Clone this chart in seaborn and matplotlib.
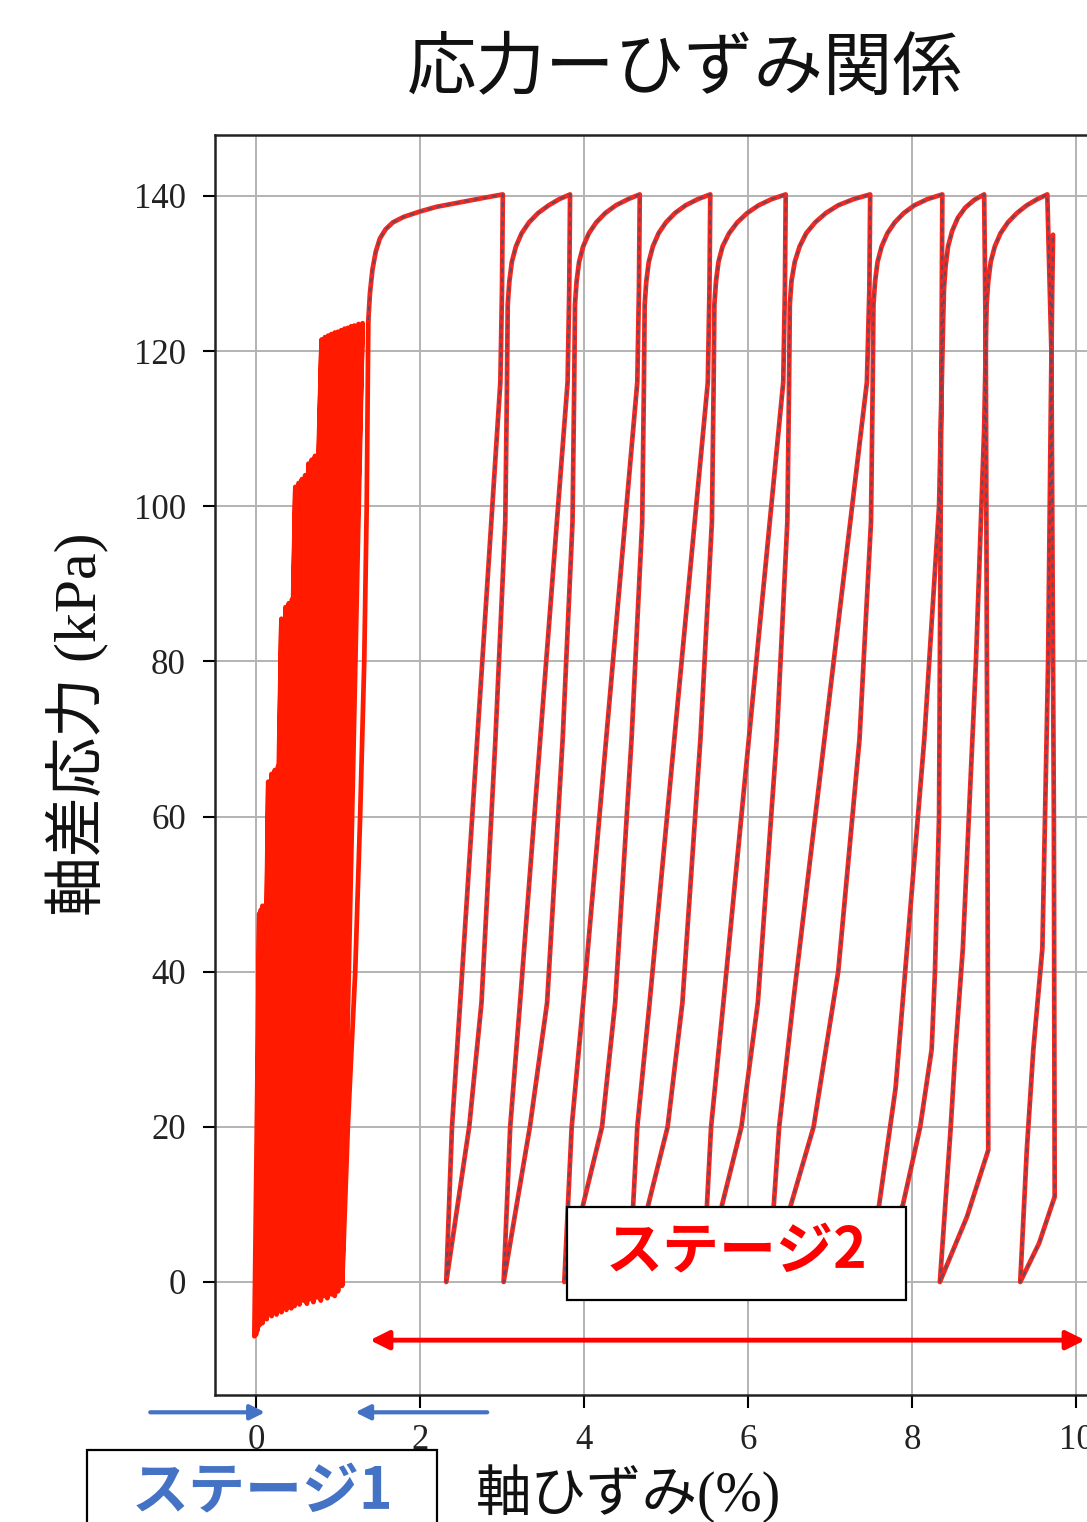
import matplotlib
matplotlib.use("Agg")
import matplotlib.pyplot as plt
import seaborn as sns
import pandas as pd
from matplotlib.patches import Rectangle

# ---------------- data ----------------
# Stage 1: small cyclic loading (trough -> peak per cycle)
s1_trough_x = [-0.02, 0.00, 0.02, 0.04, 0.06, 0.08, 0.11, 0.13, 0.16, 0.19, 0.22, 0.25,
               0.28, 0.31, 0.34, 0.37, 0.41, 0.43, 0.45, 0.47, 0.49, 0.53, 0.58, 0.62,
               0.66, 0.70, 0.74, 0.79, 0.83, 0.87, 0.92, 0.96, 1.00]
s1_trough_y = [-7.0, -6.8, -6.2, -5.6, -5.0, -5.3, -4.4, -4.8, -3.9, -4.4, -3.6, -4.2,
               -3.4, -3.9, -3.2, -3.6, -3.0, -3.4, -2.7, -3.1, -2.6, -2.9, -2.4, -2.8,
               -2.2, -2.6, -2.0, -2.4, -1.8, -2.1, -1.6, -1.8, -1.2]
s1_peak_x = [0.04, 0.06, 0.08, 0.10, 0.15, 0.19, 0.23, 0.27, 0.31, 0.36, 0.40, 0.44,
             0.48, 0.52, 0.56, 0.60, 0.64, 0.68, 0.72, 0.77, 0.80, 0.84, 0.88, 0.92,
             0.96, 1.00, 1.04, 1.08, 1.12, 1.16, 1.20, 1.25, 1.30]
s1_peak_y = [47.5, 48.0, 48.5, 48.0, 64.5, 65.5, 66.0, 66.5, 85.5, 87.0, 87.5, 88.0,
             102.5, 103.0, 103.5, 104.0, 105.5, 106.0, 106.5, 107.0, 121.5, 121.8, 122.0, 122.2,
             122.4, 122.5, 122.7, 122.9, 123.0, 123.2, 123.3, 123.5, 123.6]
# last stage-1 loading branch
s1_final_x = [1.05, 1.12, 1.21, 1.27, 1.32, 1.35, 1.37]
s1_final_y = [-0.5, 20.0, 40.0, 60.0, 80.0, 100.0, 124.0]

# Stage 2: monotonic loading + large unload/reload loops
stage2_strain = [
    # monotonic branch
    1.37, 1.39, 1.42, 1.46, 1.51, 1.58, 1.67, 1.80, 2.00, 2.20, 2.40, 2.60, 2.80, 3.01,
    # loop 1
    3.00, 2.98, 2.49, 2.39, 2.32,
    2.60, 2.75, 2.92, 3.04, 3.06, 3.07, 3.09, 3.12, 3.17, 3.24, 3.33, 3.44, 3.57, 3.70, 3.83,
    # loop 2
    3.82, 3.80, 3.22, 3.10, 3.02,
    3.34, 3.55, 3.74, 3.86, 3.88, 3.89, 3.91, 3.94, 3.99, 4.06, 4.15, 4.26, 4.39, 4.54, 4.68,
    # loop 3
    4.67, 4.65, 3.99, 3.85, 3.76,
    4.22, 4.38, 4.58, 4.71, 4.73, 4.74, 4.76, 4.79, 4.84, 4.91, 5.00, 5.11, 5.24, 5.39, 5.54,
    # loop 4
    5.53, 5.51, 4.80, 4.65, 4.55,
    5.02, 5.20, 5.42, 5.56, 5.58, 5.59, 5.61, 5.64, 5.69, 5.77, 5.87, 5.99, 6.13, 6.29, 6.46,
    # loop 5
    6.45, 6.43, 5.70, 5.55, 5.45,
    5.92, 6.12, 6.35, 6.48, 6.50, 6.51, 6.53, 6.57, 6.63, 6.71, 6.82, 6.95, 7.10, 7.29, 7.49,
    # loop 6
    7.48, 7.45, 6.55, 6.38, 6.25,
    6.80, 7.10, 7.36, 7.50, 7.52, 7.53, 7.55, 7.58, 7.63, 7.70, 7.79, 7.90, 8.03, 8.19, 8.37,
    # loop 7
    8.36, 8.33, 8.28, 8.24, 8.10, 7.89, 7.45,
    7.60, 7.80, 7.94, 8.15, 8.33, 8.38, 8.39, 8.41, 8.44, 8.49, 8.56, 8.65, 8.76, 8.88,
    # loop 8
    8.90, 8.92, 8.93, 8.67, 8.34,
    8.41, 8.47, 8.53, 8.62, 8.78, 8.88, 8.91, 8.93, 8.96, 9.01, 9.08, 9.17, 9.28, 9.40, 9.53, 9.65,
    # loop 9
    9.70, 9.73, 9.74, 9.55, 9.32,
    9.40, 9.48, 9.59, 9.66, 9.69, 9.71, 9.72,
]
stage2_stress = [
    124.0, 127.5, 130.5, 132.8, 134.5, 135.7, 136.6, 137.3, 138.0, 138.6, 139.0, 139.4, 139.8, 140.2,
    128.0, 116.0, 36.0, 20.0, 0.0,
    20.0, 36.0, 70.0, 98.0, 115.0, 126.0, 129.0, 131.5, 133.5, 135.2, 136.6, 137.8, 138.8, 139.6, 140.2,
    128.0, 116.0, 36.0, 20.0, 0.0,
    20.0, 36.0, 70.0, 98.0, 115.0, 126.0, 129.0, 131.5, 133.5, 135.2, 136.6, 137.8, 138.8, 139.6, 140.2,
    128.0, 116.0, 36.0, 20.0, 0.0,
    20.0, 36.0, 70.0, 98.0, 115.0, 126.0, 129.0, 131.5, 133.5, 135.2, 136.6, 137.8, 138.8, 139.6, 140.2,
    128.0, 116.0, 36.0, 20.0, 0.0,
    20.0, 36.0, 70.0, 98.0, 115.0, 126.0, 129.0, 131.5, 133.5, 135.2, 136.6, 137.8, 138.8, 139.6, 140.2,
    128.0, 116.0, 36.0, 20.0, 0.0,
    20.0, 36.0, 70.0, 98.0, 115.0, 126.0, 129.0, 131.5, 133.5, 135.2, 136.6, 137.8, 138.8, 139.6, 140.2,
    128.0, 116.0, 36.0, 20.0, 0.0,
    20.0, 40.0, 70.0, 98.0, 115.0, 126.0, 129.0, 131.5, 133.5, 135.2, 136.6, 137.8, 138.8, 139.6, 140.2,
    120.0, 60.0, 40.0, 30.0, 20.0, 10.0, 0.0,
    10.0, 25.0, 43.0, 70.0, 100.0, 124.0, 128.0, 131.0, 133.5, 135.5, 137.2, 138.5, 139.5, 140.2,
    120.0, 60.0, 17.0, 8.4, 0.0,
    10.6, 19.6, 30.0, 43.0, 80.0, 110.0, 126.0, 129.0, 131.5, 133.5, 135.2, 136.6, 137.8, 138.8, 139.6, 140.2,
    120.0, 60.0, 11.0, 5.0, 0.0,
    17.0, 30.0, 43.0, 80.0, 110.0, 128.0, 135.0,
]

x_ticks = [0, 2, 4, 6, 8, 10]
y_ticks = [0, 20, 40, 60, 80, 100, 120, 140]

title = "応力ーひずみ関係"
xlabel = "軸ひずみ(%)"
ylabel = "軸差応力 (kPa)"
stage1_label = "ステージ1"
stage2_label = "ステージ2"

# ---------------- build tables ----------------
path1_x, path1_y = [], []
for tx, ty, px, py in zip(s1_trough_x, s1_trough_y, s1_peak_x, s1_peak_y):
    path1_x += [tx, px]
    path1_y += [ty, py]
path1_x += s1_final_x
path1_y += s1_final_y
df1 = pd.DataFrame({"strain": path1_x, "stress": path1_y})
df2 = pd.DataFrame({"strain": stage2_strain, "stress": stage2_stress})

# ---------------- style ----------------
sns.set_theme(style="whitegrid", rc={"grid.color": "#b3b3b3", "grid.linewidth": 1.4})
plt.rcParams["font.family"] = ["Liberation Serif", "Noto Sans CJK JP"]
plt.rcParams["axes.unicode_minus"] = False

fig = plt.figure(figsize=(10.87, 15.22), dpi=100)
fig.patch.set_facecolor("white")
ax = fig.add_axes([215 / 1087, 127 / 1522, 902 / 1087, 1260 / 1522])
ax.set_facecolor("white")

sns.lineplot(data=df1, x="strain", y="stress", sort=False, estimator=None,
             color="#ff1a00", lw=3.4, ax=ax, zorder=3)
sns.lineplot(data=df2, x="strain", y="stress", sort=False, estimator=None,
             color="#ee2a22", lw=3.4, ax=ax, zorder=3)
sns.lineplot(data=df2, x="strain", y="stress", sort=False, estimator=None,
             color="#5e4a66", lw=1.3, ax=ax, zorder=4)
ax.lines[-1].set_dashes([2.6, 2.6])

ax.set_xlim(-0.5, 10.5)
ax.set_ylim(-14.57, 147.86)
ax.set_xticks(x_ticks)
ax.set_yticks(y_ticks)
ax.tick_params(axis="both", direction="out", length=9, width=1.5, color="black",
               labelsize=25, pad=12, bottom=True, left=True, labelcolor="#222222")
for sp in ["left", "bottom", "top", "right"]:
    ax.spines[sp].set_color("#222222")
    ax.spines[sp].set_linewidth(1.8)

ax.set_xlabel(xlabel, fontsize=40, color="#111111")
ax.xaxis.set_label_coords(0.458, -0.0785)
ax.xaxis.label.set_va("center")
ax.set_ylabel(ylabel, fontsize=43, color="#111111")
ax.yaxis.set_label_coords(-0.152, 0.532)
ax.yaxis.label.set_va("center")
ax.set_title(title, fontsize=50, x=0.521, y=1.05, va="center", pad=0, color="#111111")

# red double arrow for stage 2
ax.annotate("", xy=(10.11, -7.5), xytext=(1.39, -7.5),
            arrowprops=dict(arrowstyle="<|-|>", color="#ff0000", lw=3.5,
                            mutation_scale=28, shrinkA=0, shrinkB=0),
            zorder=6, annotation_clip=False)

# stage 2 box
ax.add_patch(Rectangle((3.79, -2.3), 7.93 - 3.79, 12.0, facecolor="white",
                       edgecolor="black", lw=1.6, zorder=7))
ax.text(5.86, 3.9, stage2_label, color="#ff0000", fontsize=41, fontweight="bold",
        family=["Noto Sans CJK JP"], ha="center", va="center", zorder=8)

# blue arrows for stage 1 (below axis)
ax.annotate("", xy=(0.11, -16.8), xytext=(-1.29, -16.8),
            arrowprops=dict(arrowstyle="-|>", color="#4472c4", lw=3,
                            mutation_scale=22, shrinkA=0, shrinkB=0),
            annotation_clip=False)
ax.annotate("", xy=(1.21, -16.8), xytext=(2.82, -16.8),
            arrowprops=dict(arrowstyle="-|>", color="#4472c4", lw=3,
                            mutation_scale=22, shrinkA=0, shrinkB=0),
            annotation_clip=False)

# stage 1 box (figure coords, runs off the bottom)
fig.patches.append(Rectangle((87 / 1087, -0.02), 350 / 1087, (1522 - 1450) / 1522 + 0.02,
                             transform=fig.transFigure, facecolor="white",
                             edgecolor="black", lw=1.6, zorder=5))
fig.text(262 / 1087, 1 - 1491 / 1522, stage1_label, color="#4472c4", fontsize=41,
         fontweight="bold", family=["Noto Sans CJK JP"], ha="center", va="center", zorder=6)

fig.savefig("out.png", dpi=100, facecolor="white")
